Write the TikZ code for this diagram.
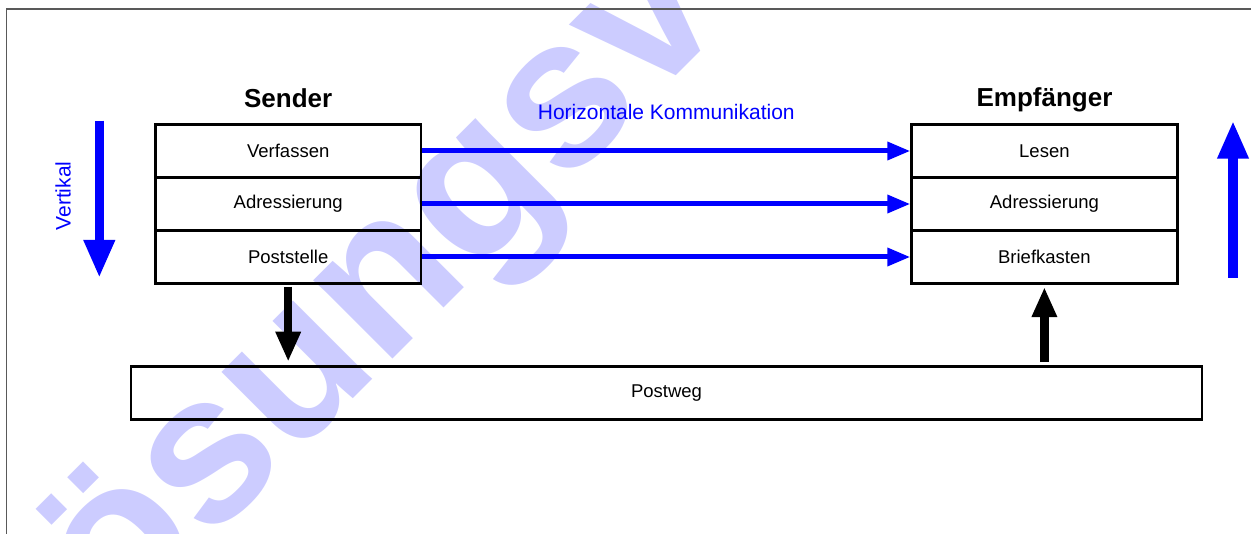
\documentclass[tikz,border=0pt]{standalone}
\usepackage{fontspec}
\setmainfont{Liberation Sans}
\usetikzlibrary{arrows.meta}
\definecolor{wmark}{RGB}{204,204,255}
\definecolor{lblue}{RGB}{0,0,255}
\tikzset{
  layer/.style={draw, line width=2.5pt, minimum width=265.7pt, minimum height=53pt,
    inner sep=0pt, font=\fontsize{18.5}{22}\selectfont},
  heading/.style={font=\fontsize{26}{30}\selectfont\bfseries, anchor=base, inner sep=0pt},
  bluelabel/.style={text=lblue, font=\fontsize{21}{25}\selectfont, anchor=base, inner sep=0pt},
  hflow/.style={draw=lblue, line width=5pt, -{Triangle[length=23pt,width=17.5pt]}},
  vflow/.style={draw=lblue, line width=9.5pt, -{Triangle[length=38pt,width=29pt]}},
  transfer/.style={draw=black, line width=8.5pt, -{Triangle[length=30pt,width=23.5pt]}},
}
\begin{document}
\begin{tikzpicture}[x=1pt,y=-1pt]
\useasboundingbox (0,0) rectangle (1251,534);

% watermark behind everything
\begin{scope}
  \clip (0,0) rectangle (1251,534);
  \node[text=wmark, font=\fontsize{211}{211}\selectfont\bfseries, rotate=45,
        anchor=base west, inner sep=0pt] (wm) at (26,726) {Lösungsvorschlag};
\end{scope}

% page frame
\draw[black!65, line width=1.3pt] (6.5,545) -- (6.5,9) -- (1260,9);

% sender stack
\node[heading] (sh) at (288.2,107.5) {Sender};
\node[layer] (s1) at (288.2,151) {Verfassen};
\node[layer] (s2) at (288.2,204) {Adressierung};
\node[layer] (s3) at (288.2,257) {Poststelle};

% receiver stack
\node[heading] (rh) at (1044.5,106.5) {Empfänger};
\node[layer] (r1) at (1044.4,151) {Lesen};
\node[layer] (r2) at (1044.4,204) {Adressierung};
\node[layer] (r3) at (1044.4,257) {Briefkasten};

% transport layer
\node[layer, minimum width=1071pt] (pw) at (666.5,392.8) {Postweg};

% labels
\node[bluelabel] (hk) at (666.3,119.5) {Horizontale Kommunikation};
\node[bluelabel, rotate=90] (vl) at (70.6,196) {Vertikal};

% horizontal communication
\draw[hflow] (s1.east) -- (r1.west);
\draw[hflow] (s2.east) -- (r2.west);
\draw[hflow] (s3.east) -- (r3.west);

% vertical direction arrows
\coordinate (vt) at (99.3,120.7);
\coordinate (vb) at (99.3,278);
\draw[vflow] (vt) -- (vb);
\coordinate (ut) at (1233,120.7);
\coordinate (ub) at (1233,278);
\draw[vflow] (ub) -- (ut);

% hand-over to and from the postal route
\draw[transfer, shorten <=2pt, shorten >=3.3pt] (s3.south) -- (s3.south |- pw.north);
\draw[transfer, shorten <=3pt, shorten >=2.3pt] (r3.south |- pw.north) -- (r3.south);
\end{tikzpicture}
\end{document}
